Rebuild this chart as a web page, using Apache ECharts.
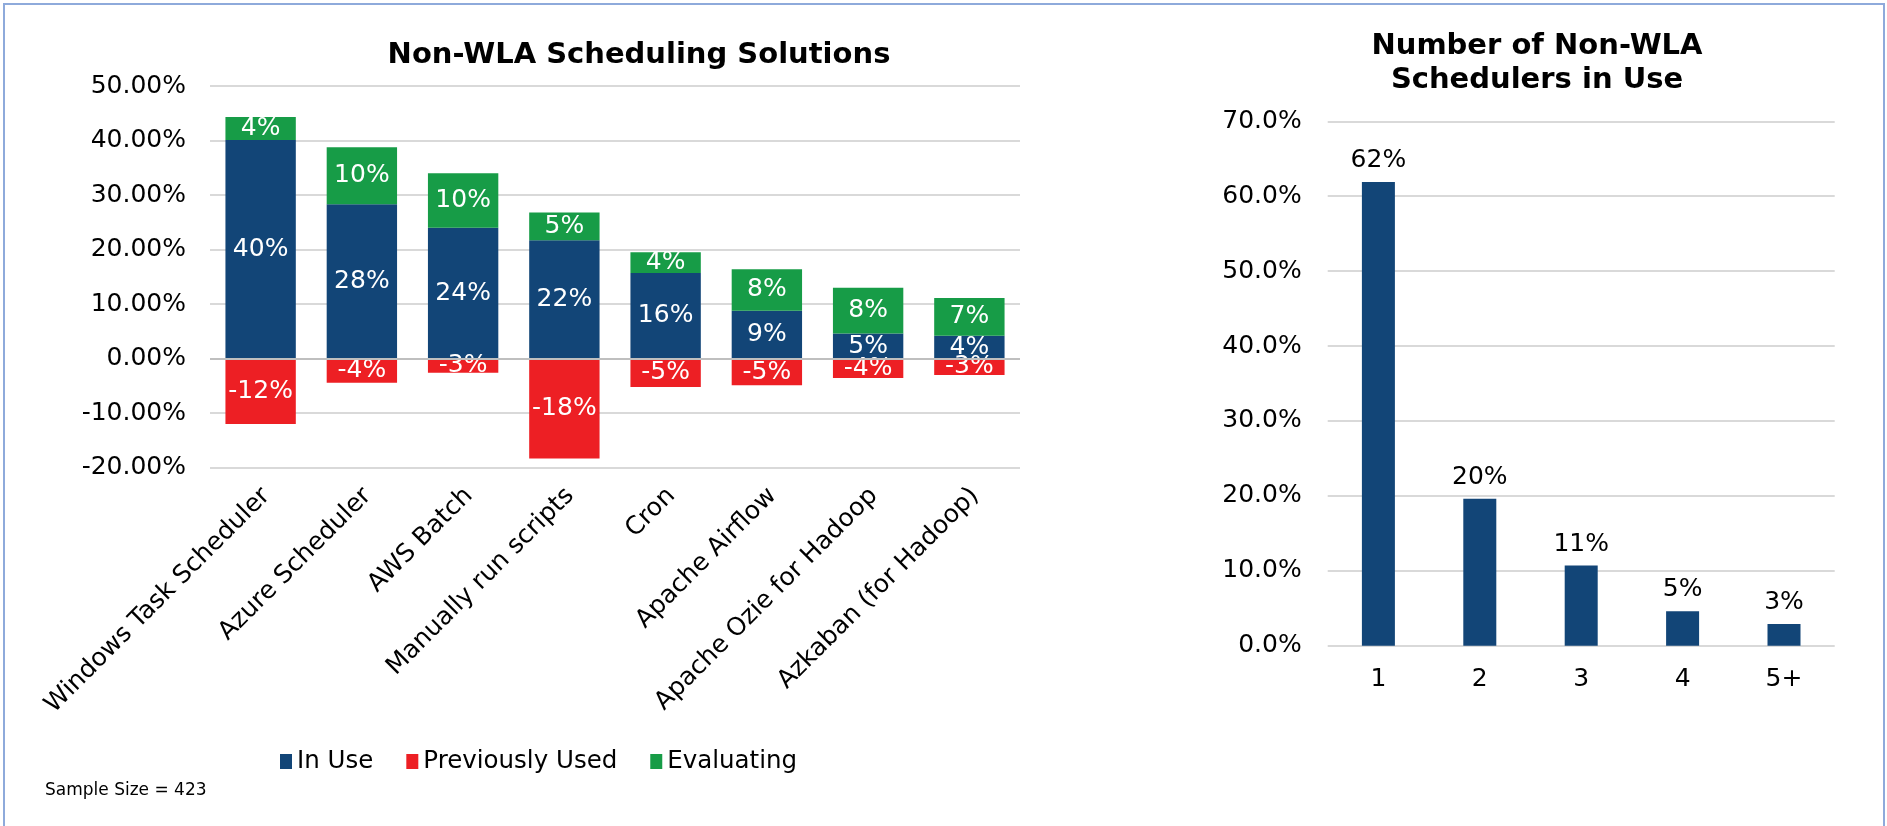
<!DOCTYPE html>
<html>
<head>
<meta charset="utf-8">
<script src="https://cdn.jsdelivr.net/npm/echarts@6/dist/echarts.min.js"></script>
<style>
html,body{margin:0;padding:0;background:#fff;}
#chart{width:1887px;height:826px;}
</style>
</head>
<body>
<div id="chart"></div>
<script>
// ---- Data ----
const categories = ['Windows Task Scheduler','Azure Scheduler','AWS Batch','Manually run scripts','Cron','Apache Airflow','Apache Ozie for Hadoop','Azkaban (for Hadoop)'];
const inUse = [40.1, 28.3, 24.0, 21.7, 15.7, 8.8, 4.6, 4.2];
const previouslyUsed = [-12.0, -4.4, -2.6, -18.3, -5.2, -4.9, -3.55, -3.0];
const evaluating = [4.2, 10.45, 10.0, 5.1, 3.8, 7.6, 8.4, 6.9];
const seriesNames = ['In Use', 'Previously Used', 'Evaluating'];

const countCategories = ['1', '2', '3', '4', '5+'];
const countValues = [61.9, 19.6, 10.7, 4.6, 2.9];

const leftTitle = 'Non-WLA Scheduling Solutions';
const rightTitle = 'Number of Non-WLA\nSchedulers in Use';
const sampleNote = 'Sample Size = 423';

// ---- Styles ----
const FONT = 'DejaVu Sans, Verdana, sans-serif';
const BLUE = '#124577', RED = '#ED1F24', GREEN = '#179C47';
const GRID = '#d9d9d9';

const chart = echarts.init(document.getElementById('chart'), null, {renderer: 'canvas'});
const pct = v => Math.round(v) + '%';

const barLabel = {
  show: true, position: 'inside', color: '#fff', fontSize: 25, fontFamily: FONT,
  formatter: p => pct(p.value)
};

chart.setOption({
  backgroundColor: '#fff',
  animation: false,
  textStyle: {fontFamily: FONT},
  title: [
    {text: leftTitle, left: 634, top: 36, textAlign: 'center',
     textStyle: {fontSize: 29, fontWeight: 'bold', color: '#000', fontFamily: FONT}},
    {text: rightTitle, left: 1532, top: 24, textAlign: 'center',
     textStyle: {fontSize: 29, fontWeight: 'bold', color: '#000', fontFamily: FONT, lineHeight: 34}}
  ],
  legend: {
    data: seriesNames, left: 275, top: 744, itemWidth: 12, itemHeight: 15, itemGap: 33,
    icon: 'rect',
    textStyle: {fontSize: 24.5, color: '#000', fontFamily: FONT}
  },
  grid: [
    {left: 210, top: 86, width: 810, height: 381.7},
    {left: 1327.7, top: 121.3, width: 507, height: 524.4}
  ],
  xAxis: [
    {type: 'category', gridIndex: 0, data: categories,
     axisLine: {show: false, onZero: false}, axisTick: {show: false},
     axisLabel: {rotate: 45, margin: 30, fontSize: 25, color: '#000', fontFamily: FONT, interval: 0,
       padding: [0, -8, 0, 0]}},
    {type: 'category', gridIndex: 1, data: countCategories,
     axisLine: {show: false}, axisTick: {show: false},
     axisLabel: {margin: 21, fontSize: 25, color: '#000', fontFamily: FONT}}
  ],
  yAxis: [
    {type: 'value', gridIndex: 0, min: -20, max: 50, interval: 10,
     axisLine: {show: false}, axisTick: {show: false},
     splitLine: {lineStyle: {color: GRID, width: 2}},
     axisLabel: {margin: 24, fontSize: 25, color: '#000', fontFamily: FONT, formatter: v => v.toFixed(2) + '%'}},
    {type: 'value', gridIndex: 1, min: 0, max: 70, interval: 10,
     axisLine: {show: false}, axisTick: {show: false},
     splitLine: {lineStyle: {color: GRID, width: 2}},
     axisLabel: {margin: 26, fontSize: 25, color: '#000', fontFamily: FONT, formatter: v => v.toFixed(1) + '%'}}
  ],
  series: [
    {name: seriesNames[0], type: 'bar', stack: 'a', xAxisIndex: 0, yAxisIndex: 0, data: inUse,
     barCategoryGap: '30.5%', itemStyle: {color: BLUE}, label: barLabel,
     markLine: {silent: true, symbol: 'none', label: {show: false},
       lineStyle: {color: '#bfbfbf', width: 2, type: 'solid'}, data: [{yAxis: 0}], z: 5}},
    {name: seriesNames[1], type: 'bar', stack: 'a', xAxisIndex: 0, yAxisIndex: 0, data: previouslyUsed,
     barCategoryGap: '30.5%', itemStyle: {color: RED}, label: barLabel},
    {name: seriesNames[2], type: 'bar', stack: 'a', xAxisIndex: 0, yAxisIndex: 0, data: evaluating,
     barCategoryGap: '30.5%', itemStyle: {color: GREEN}, label: barLabel},
    {name: 'count', type: 'bar', xAxisIndex: 1, yAxisIndex: 1, data: countValues,
     barWidth: 33, itemStyle: {color: BLUE},
     label: {show: true, position: 'top', distance: 9, fontSize: 25, color: '#000', fontFamily: FONT,
       formatter: p => pct(p.value)}}
  ],
  graphic: [
    {type: 'rect', shape: {x: 4, y: 4, width: 1880, height: 900}, silent: true,
     style: {fill: 'none', stroke: '#8eaadb', lineWidth: 2}},
    {type: 'text', left: 45, top: 782, silent: true,
     style: {text: sampleNote, fontSize: 17, fill: '#000', fontFamily: FONT}}
  ]
});
</script>
</body>
</html>
